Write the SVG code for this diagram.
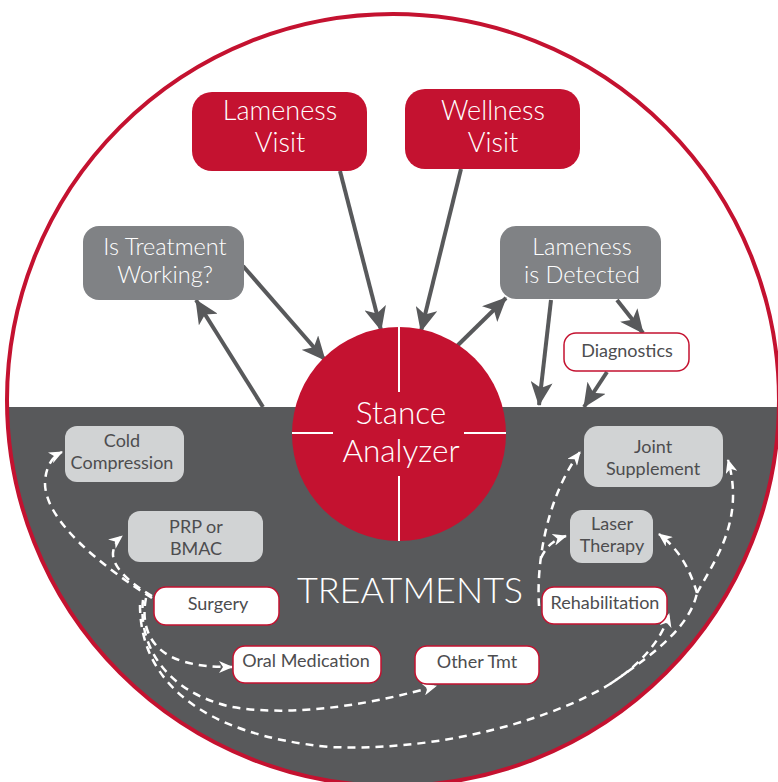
<svg xmlns="http://www.w3.org/2000/svg" width="778" height="782" viewBox="0 0 778 782">
<defs>
<style>
.red{fill:#C41230}
.gbox{fill:#808285}
.lbox{fill:#D1D3D4}
.wbox{fill:#ffffff;stroke:#C41230;stroke-width:1.5}
.tw{font-family:Lato,"Liberation Sans",sans-serif;font-weight:300;fill:#ffffff;text-anchor:middle}
.td{font-family:Lato,"Liberation Sans",sans-serif;font-weight:400;fill:#4D4D4F;text-anchor:middle;font-size:18px}
.sol{fill:none;stroke:#58595B;stroke-width:4;marker-end:url(#ah)}
.dash{fill:none;stroke:#ffffff;stroke-width:2.5;stroke-dasharray:8 6}
.dasha{marker-end:url(#wh)}
</style>
<marker id="ah" viewBox="0 0 24 22" refX="23" refY="11" markerWidth="24" markerHeight="22" markerUnits="userSpaceOnUse" orient="auto">
<path d="M0,0 L24,11 L0,22 L6,11 z" fill="#58595B"/>
</marker>
<marker id="wh" viewBox="0 0 14 12" refX="13" refY="6" markerWidth="14" markerHeight="12" markerUnits="userSpaceOnUse" orient="auto">
<path d="M0,0 L14,6 L0,12 L4,6 z" fill="#ffffff"/>
</marker>
<clipPath id="cc"><circle cx="393" cy="400" r="386"/></clipPath>
</defs>
<rect width="778" height="782" fill="#ffffff"/>
<g id="background">
<rect x="0" y="407" width="778" height="400" fill="#58595B" clip-path="url(#cc)"/>
<circle cx="393" cy="400" r="386" fill="none" stroke="#C41230" stroke-width="4"/>
</g>
<g id="connectors">
<line class="sol" x1="340" y1="171" x2="381" y2="330"/>
<line class="sol" x1="461" y1="169" x2="421" y2="331"/>
<line class="sol" x1="243" y1="266" x2="325" y2="360"/>
<line class="sol" x1="263" y1="407" x2="196" y2="300"/>
<line class="sol" x1="457" y1="346" x2="506" y2="298"/>
<line class="sol" x1="551" y1="300" x2="539" y2="405"/>
<line class="sol" x1="617" y1="300" x2="643" y2="333"/>
<line class="sol" x1="607" y1="372" x2="584" y2="407"/>
<path class="dash dasha" d="M152,598 C 100,565 44,520 45,482 C 46,466 52,457 62,452"/>
<path class="dash dasha" d="M152,596 C 128,582 112,566 113,553 C 114,545 117,540 122,536"/>
<path class="dash dasha" d="M146,598 C 140,628 152,652 182,661 C 198,666 212,667 232,667"/>
<path class="dash dasha" d="M143,600 C 138,645 165,692 232,707 C 300,718 380,702 436,686"/>
<path class="dash" d="M140,605 C 140,680 200,735 330,747 C 450,752 560,715 610,684 C 660,650 690,625 697,593"/>
<path class="dash dasha" d="M697,593 C 715,560 745,520 728,460"/>
<path class="dash dasha" d="M697,593 C 690,570 680,550 659,534"/>
<path class="dash dasha" d="M610,684 C 640,665 662,640 669,614"/>
<path class="dash dasha" d="M539,606 C 536,560 548,495 580,452"/>
<path class="dash dasha" d="M541,558 C 546,547 553,540 566,536"/>
</g>
<g id="stance-analyzer">
<circle cx="399" cy="434" r="107" class="red"/>
<line x1="399" y1="327" x2="399" y2="392" stroke="#ffffff" stroke-width="2"/>
<line x1="399" y1="476" x2="399" y2="541" stroke="#ffffff" stroke-width="2"/>
<line x1="292" y1="433" x2="333" y2="433" stroke="#ffffff" stroke-width="2"/>
<line x1="464" y1="433" x2="506" y2="433" stroke="#ffffff" stroke-width="2"/>
<text class="tw" x="401" y="424" font-size="31.5">Stance</text>
<text class="tw" x="401" y="462" font-size="31.5">Analyzer</text>
</g>
<g id="lameness-visit">
<rect x="192" y="92" width="175" height="79" rx="20" class="red"/>
<text class="tw" x="280" y="120" font-size="27">Lameness</text>
<text class="tw" x="280" y="152" font-size="27">Visit</text>
</g>
<g id="wellness-visit">
<rect x="405" y="89" width="175" height="80" rx="20" class="red"/>
<text class="tw" x="493" y="120" font-size="27">Wellness</text>
<text class="tw" x="493" y="152" font-size="27">Visit</text>
</g>
<g id="is-treatment-working">
<rect x="83" y="226" width="161" height="74" rx="16" class="gbox"/>
<text class="tw" x="165" y="255" font-size="23.5">Is Treatment</text>
<text class="tw" x="165" y="283" font-size="23.5">Working?</text>
</g>
<g id="lameness-detected">
<rect x="500" y="226" width="161" height="73" rx="16" class="gbox"/>
<text class="tw" x="582" y="255" font-size="23.5">Lameness</text>
<text class="tw" x="582" y="283" font-size="23.5">is Detected</text>
</g>
<g id="diagnostics">
<rect x="564" y="333" width="125" height="38" rx="12" class="wbox"/>
<text class="td" x="627" y="357">Diagnostics</text>
</g>
<g id="cold-compression">
<rect x="65" y="426" width="119" height="56" rx="12" class="lbox"/>
<text class="td" x="122" y="447">Cold</text>
<text class="td" x="122" y="469">Compression</text>
</g>
<g id="prp-bmac">
<rect x="128" y="511" width="135" height="51" rx="12" class="lbox"/>
<text class="td" x="196" y="533">PRP or</text>
<text class="td" x="196" y="555">BMAC</text>
</g>
<g id="surgery">
<rect x="154" y="587" width="125" height="38" rx="12" class="wbox"/>
<text class="td" x="218" y="610">Surgery</text>
</g>
<g id="oral-medication">
<rect x="233" y="646" width="148" height="37" rx="12" class="wbox"/>
<text class="td" x="306" y="667">Oral Medication</text>
</g>
<g id="other-tmt">
<rect x="415" y="646" width="124" height="38" rx="12" class="wbox"/>
<text class="td" x="477" y="668">Other Tmt</text>
</g>
<g id="rehabilitation">
<rect x="542" y="587" width="125" height="37" rx="12" class="wbox"/>
<text class="td" x="605" y="609">Rehabilitation</text>
</g>
<g id="joint-supplement">
<rect x="584" y="426" width="139" height="61" rx="14" class="lbox"/>
<text class="td" x="653" y="453">Joint</text>
<text class="td" x="653" y="475">Supplement</text>
</g>
<g id="laser-therapy">
<rect x="570" y="510" width="83" height="53" rx="12" class="lbox"/>
<text class="td" x="612" y="530">Laser</text>
<text class="td" x="612" y="552">Therapy</text>
</g>
<g id="treatments-label">
<text class="tw" x="410" y="603" font-size="36">TREATMENTS</text>
</g>
</svg>
